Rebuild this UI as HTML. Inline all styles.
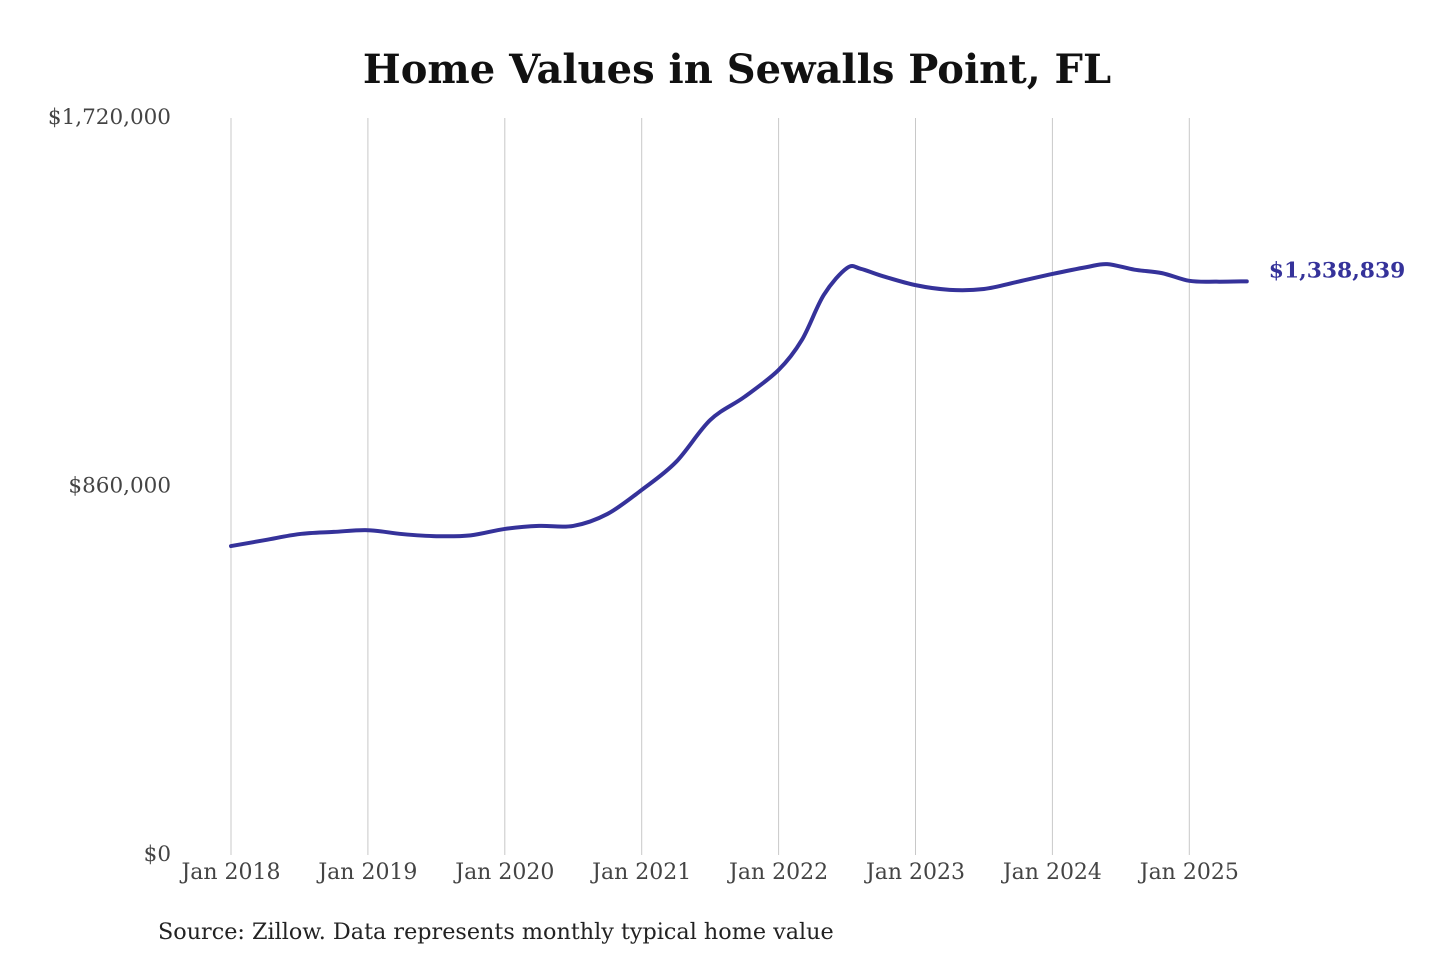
<!DOCTYPE html>
<html><head><meta charset="utf-8"><style>
body{margin:0;background:#fff;}
svg text{font-family:"DejaVu Serif","Liberation Serif",serif;}
</style></head><body>
<svg width="1440" height="960" id="chart">
<text x="737" y="83" text-anchor="middle" font-size="40" font-weight="bold" fill="#111">Home Values in Sewalls Point, FL</text>
<text x="158" y="939" font-size="22.3" fill="#222">Source: Zillow. Data represents monthly typical home value</text>
<g id="grid"></g><g id="yaxis"></g><g id="xaxis"></g><g id="series"></g>
</svg>
<script>
const dates=[2018.0,2018.25,2018.5,2018.75,2019.0,2019.25,2019.5,2019.75,2020.0,2020.25,2020.5,2020.75,2021.0,2021.25,2021.5,2021.75,2022.0,2022.17,2022.33,2022.5,2022.6,2022.75,2023.0,2023.25,2023.5,2023.75,2024.0,2024.25,2024.4,2024.6,2024.8,2025.0,2025.2,2025.42];
const values=[721000,735000,749000,754000,758000,749000,744000,746000,761000,768000,768000,796000,852000,917000,1015000,1069000,1132000,1202000,1307000,1370000,1368000,1352000,1330000,1319000,1321000,1338000,1356000,1372000,1379000,1366000,1358000,1340000,1338000,1338839];
const yTicks=[0,860000,1720000];
const yTickLabels=["$0","$860,000","$1,720,000"];
const xTicks=[2018,2019,2020,2021,2022,2023,2024,2025];
const xTickLabels=["Jan 2018","Jan 2019","Jan 2020","Jan 2021","Jan 2022","Jan 2023","Jan 2024","Jan 2025"];
const lastLabel="$1,338,839";
const NS="http://www.w3.org/2000/svg";
const X=d=>231+(d-2018)*136.9;
const Y=v=>855-v/1720000*737;
function mk(t,a,p){const e=document.createElementNS(NS,t);for(const k in a)e.setAttribute(k,a[k]);p.appendChild(e);return e;}
const grid=document.getElementById('grid'),ya=document.getElementById('yaxis'),xa=document.getElementById('xaxis'),se=document.getElementById('series');
xTicks.forEach((d,i)=>{
const l=mk('line',{x1:X(d),x2:X(d),y1:118,y2:855,stroke:'#c8c8c8','stroke-width':1},grid);


const t=mk('text',{x:X(d),y:879,'text-anchor':'middle','font-size':22,fill:'#444'},xa);
t.textContent=xTickLabels[i];


});
yTicks.forEach((v,i)=>{
const t=mk('text',{x:171,y:Y(v)+6,'text-anchor':'end','font-size':21.5,fill:'#444'},ya);
t.textContent=yTickLabels[i];


});
const pts=dates.map((d,i)=>[X(d),Y(values[i])]);
let p='M'+pts[0][0]+','+pts[0][1];
for(let i=0;i<pts.length-1;i++){
const p0=pts[Math.max(0,i-1)],p1=pts[i],p2=pts[i+1],p3=pts[Math.min(pts.length-1,i+2)];
const c1=[p1[0]+(p2[0]-p0[0])/6,p1[1]+(p2[1]-p0[1])/6],c2=[p2[0]-(p3[0]-p1[0])/6,p2[1]-(p3[1]-p1[1])/6];
p+=` C${c1[0]},${c1[1]} ${c2[0]},${c2[1]} ${p2[0]},${p2[1]}`;
}
const path=mk('path',{d:p,fill:'none',stroke:'#35329a','stroke-width':4,'stroke-linejoin':'round','stroke-linecap':'round'},se);


const last=pts[pts.length-1];
const lt=mk('text',{x:last[0]+22,y:last[1]-4,'font-size':21.8,'font-weight':'bold',fill:'#35329a'},se);
lt.textContent=lastLabel;


</script>
</body></html>
